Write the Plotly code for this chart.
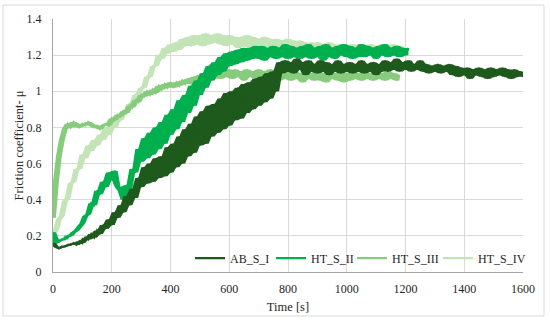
import numpy as np
import plotly.graph_objects as go

# Time axis (s), sampled every 10 s
t_ab = list(range(0, 1601, 10))
t_ii = list(range(0, 1211, 10))
t_iii = list(range(0, 1181, 10))
t_iv = list(range(0, 1201, 10))

series_names = ["AB_S_I", "HT_S_II", "HT_S_III", "HT_S_IV"]

ab_s_i = [
    0.16, 0.14, 0.13, 0.14, 0.14, 0.15, 0.15, 0.16, 0.15, 0.17,
    0.16, 0.19, 0.18, 0.21, 0.19, 0.23, 0.21, 0.26, 0.24, 0.29,
    0.26, 0.33, 0.30, 0.37, 0.33, 0.42, 0.37, 0.46, 0.41, 0.52,
    0.47, 0.58, 0.49, 0.60, 0.50, 0.63, 0.52, 0.64, 0.53, 0.69,
    0.55, 0.71, 0.58, 0.75, 0.60, 0.79, 0.64, 0.82, 0.66, 0.86,
    0.70, 0.89, 0.71, 0.92, 0.75, 0.93, 0.77, 0.96, 0.79, 0.99,
    0.81, 1.00, 0.84, 1.02, 0.85, 1.04, 0.88, 1.05, 0.90, 1.07,
    0.92, 1.08, 0.94, 1.10, 0.96, 1.11, 1.00, 1.16, 1.10, 1.17,
    1.11, 1.16, 1.10, 1.18, 1.12, 1.16, 1.09, 1.17, 1.11, 1.15,
    1.10, 1.17, 1.11, 1.16, 1.09, 1.15, 1.11, 1.17, 1.10, 1.15,
    1.11, 1.16, 1.10, 1.15, 1.11, 1.17, 1.10, 1.15, 1.11, 1.16,
    1.09, 1.15, 1.11, 1.17, 1.11, 1.16, 1.12, 1.18, 1.11, 1.16,
    1.12, 1.17, 1.11, 1.15, 1.12, 1.17, 1.11, 1.15, 1.10, 1.14,
    1.11, 1.15, 1.10, 1.14, 1.11, 1.15, 1.09, 1.14, 1.08, 1.13,
    1.09, 1.13, 1.07, 1.12, 1.09, 1.13, 1.08, 1.12, 1.07, 1.13,
    1.08, 1.12, 1.09, 1.13, 1.08, 1.12, 1.07, 1.12, 1.08, 1.11,
    1.08,
]

ht_s_ii = [
    0.22, 0.16, 0.17, 0.18, 0.18, 0.20, 0.20, 0.22, 0.23, 0.25,
    0.27, 0.31, 0.32, 0.38, 0.37, 0.45, 0.43, 0.50, 0.47, 0.55,
    0.51, 0.56, 0.47, 0.45, 0.40, 0.48, 0.46, 0.57, 0.55, 0.68,
    0.61, 0.74, 0.63, 0.77, 0.65, 0.80, 0.68, 0.83, 0.71, 0.87,
    0.76, 0.90, 0.79, 0.95, 0.83, 0.98, 0.88, 1.03, 0.92, 1.06,
    0.98, 1.10, 1.02, 1.14, 1.06, 1.16, 1.09, 1.19, 1.11, 1.21,
    1.14, 1.22, 1.15, 1.23, 1.16, 1.24, 1.17, 1.24, 1.18, 1.25,
    1.18, 1.25, 1.17, 1.24, 1.19, 1.25, 1.18, 1.24, 1.19, 1.26,
    1.18, 1.25, 1.19, 1.24, 1.18, 1.25, 1.19, 1.26, 1.18, 1.24,
    1.19, 1.25, 1.17, 1.26, 1.19, 1.24, 1.18, 1.25, 1.20, 1.26,
    1.19, 1.25, 1.18, 1.24, 1.19, 1.26, 1.19, 1.25, 1.20, 1.24,
    1.18, 1.25, 1.20, 1.26, 1.19, 1.24, 1.20, 1.25, 1.19, 1.24,
    1.20, 1.24,
]

ht_s_iii = [
    0.30, 0.50, 0.64, 0.73, 0.79, 0.82, 0.80, 0.83, 0.81, 0.80,
    0.82, 0.81, 0.83, 0.82, 0.80, 0.81, 0.79, 0.81, 0.82, 0.81,
    0.85, 0.84, 0.87, 0.86, 0.89, 0.88, 0.92, 0.91, 0.95, 0.94,
    0.98, 0.97, 1.00, 0.98, 1.01, 0.99, 1.03, 1.01, 1.04, 1.02,
    1.05, 1.02, 1.05, 1.03, 1.06, 1.04, 1.07, 1.04, 1.08, 1.05,
    1.09, 1.06, 1.10, 1.06, 1.10, 1.07, 1.11, 1.07, 1.12, 1.08,
    1.12, 1.07, 1.12, 1.08, 1.11, 1.06, 1.12, 1.08, 1.11, 1.07,
    1.12, 1.08, 1.11, 1.06, 1.12, 1.07, 1.11, 1.06, 1.10, 1.07,
    1.11, 1.06, 1.12, 1.07, 1.10, 1.05, 1.11, 1.07, 1.10, 1.06,
    1.12, 1.06, 1.10, 1.05, 1.11, 1.07, 1.10, 1.06, 1.11, 1.05,
    1.10, 1.06, 1.11, 1.07, 1.10, 1.06, 1.11, 1.07, 1.10, 1.06,
    1.11, 1.07, 1.10, 1.06, 1.11, 1.07, 1.10, 1.06, 1.09,
]

ht_s_iv = [
    0.21, 0.23, 0.29, 0.31, 0.39, 0.41, 0.49, 0.50, 0.57, 0.57,
    0.65, 0.63, 0.70, 0.67, 0.73, 0.70, 0.76, 0.73, 0.80, 0.76,
    0.82, 0.80, 0.85, 0.84, 0.89, 0.88, 0.93, 0.92, 0.98, 0.97,
    1.02, 1.02, 1.08, 1.08, 1.14, 1.14, 1.20, 1.18, 1.24, 1.21,
    1.26, 1.22, 1.27, 1.23, 1.29, 1.25, 1.30, 1.25, 1.31, 1.26,
    1.31, 1.25, 1.32, 1.26, 1.31, 1.27, 1.32, 1.26, 1.31, 1.25,
    1.31, 1.26, 1.30, 1.24, 1.30, 1.25, 1.31, 1.24, 1.30, 1.25,
    1.29, 1.24, 1.30, 1.25, 1.29, 1.23, 1.29, 1.24, 1.28, 1.23,
    1.29, 1.23, 1.28, 1.22, 1.28, 1.23, 1.27, 1.21, 1.27, 1.22,
    1.27, 1.21, 1.26, 1.22, 1.27, 1.21, 1.26, 1.20, 1.26, 1.21,
    1.25, 1.21, 1.26, 1.20, 1.26, 1.21, 1.25, 1.20, 1.26, 1.21,
    1.25, 1.20, 1.26, 1.21, 1.25, 1.20, 1.26, 1.21, 1.25, 1.20,
    1.24,
]

x_ticks = [0, 200, 400, 600, 800, 1000, 1200, 1400, 1600]
y_ticks = [0, 0.2, 0.4, 0.6, 0.8, 1, 1.2, 1.4]
y_tick_labels = ["0", "0.2", "0.4", "0.6", "0.8", "1", "1.2", "1.4"]

colors = ["#1e5a1c", "#00b04f", "#86cc7c", "#c3e4b6"]
xs = [t_ab, t_ii, t_iii, t_iv]
ys = [ab_s_i, ht_s_ii, ht_s_iii, ht_s_iv]
legend_ids = ["legend", "legend2", "legend3", "legend4"]
legend_x = [0.2915, 0.4638, 0.6362, 0.8191]

FONT = "Liberation Serif"
TXT = "#262626"


def envelope(vals):
    """Local min / max of the measured samples (3-sample window), used to shade the noise band."""
    a = np.asarray(vals, dtype=float)
    p = np.concatenate([a[:1], a, a[-1:]])
    stack = np.vstack([p[:-2], p[1:-1], p[2:]])
    return stack.min(axis=0), stack.max(axis=0)


fig = go.Figure()
# draw lightest first so darker series sit on top
for i in [3, 2, 1, 0]:
    lo, hi = envelope(ys[i])
    fig.add_trace(go.Scatter(
        x=xs[i], y=lo, mode="lines", line=dict(width=0, color=colors[i]),
        showlegend=False, hoverinfo="skip",
    ))
    fig.add_trace(go.Scatter(
        x=xs[i], y=hi, mode="lines", line=dict(width=0, color=colors[i]),
        fill="tonexty", fillcolor=colors[i],
        showlegend=False, hoverinfo="skip",
    ))
    fig.add_trace(go.Scatter(
        x=xs[i], y=ys[i], mode="lines", name=series_names[i],
        line=dict(color=colors[i], width=2.2),
        legend=legend_ids[i], showlegend=True,
    ))

legend_common = dict(
    orientation="h", y=0.055, xanchor="left", yanchor="middle",
    bgcolor="rgba(255,255,255,0)", font=dict(family=FONT, size=12, color=TXT),
    itemwidth=30,
)

fig.update_layout(
    width=550, height=322,
    margin=dict(l=53, r=27, t=19, b=50, autoexpand=False),
    paper_bgcolor="white", plot_bgcolor="white",
    font=dict(family=FONT, size=12, color=TXT),
    showlegend=True,
    legend=dict(x=legend_x[0], **legend_common),
    legend2=dict(x=legend_x[1], **legend_common),
    legend3=dict(x=legend_x[2], **legend_common),
    legend4=dict(x=legend_x[3], **legend_common),
    xaxis=dict(
        range=[0, 1600], tickvals=x_ticks, ticktext=[str(v) for v in x_ticks],
        showgrid=True, gridcolor="#d9d9d9", gridwidth=1,
        showline=True, linecolor="#a6a6a6", linewidth=1,
        zeroline=False, ticks="", ticklen=0, automargin=False,
        ticklabelstandoff=6,
        title=dict(text="Time [s]", standoff=6, font=dict(family=FONT, size=12.5, color=TXT)),
        tickfont=dict(family=FONT, size=12, color=TXT),
    ),
    yaxis=dict(
        range=[0, 1.4], tickvals=y_ticks, ticktext=y_tick_labels,
        showgrid=True, gridcolor="#d9d9d9", gridwidth=1,
        showline=True, linecolor="#a6a6a6", linewidth=1,
        zeroline=False, ticks="", ticklen=0, automargin=False,
        ticklabelstandoff=8,
        title=dict(text="Friction coefficient- μ", standoff=0, font=dict(family=FONT, size=12.5, color=TXT)),
        tickfont=dict(family=FONT, size=12, color=TXT),
    ),
    shapes=[dict(
        type="rect", xref="paper", yref="paper",
        x0=-0.1064, x1=1.0447, y0=-0.1739, y1=1.0553,
        line=dict(color="#d9d9d9", width=1), fillcolor="rgba(0,0,0,0)", layer="below",
    )],
)

fig.write_html("out.html", config={"displayModeBar": False},
               post_script="document.body.style.margin='0px';")
